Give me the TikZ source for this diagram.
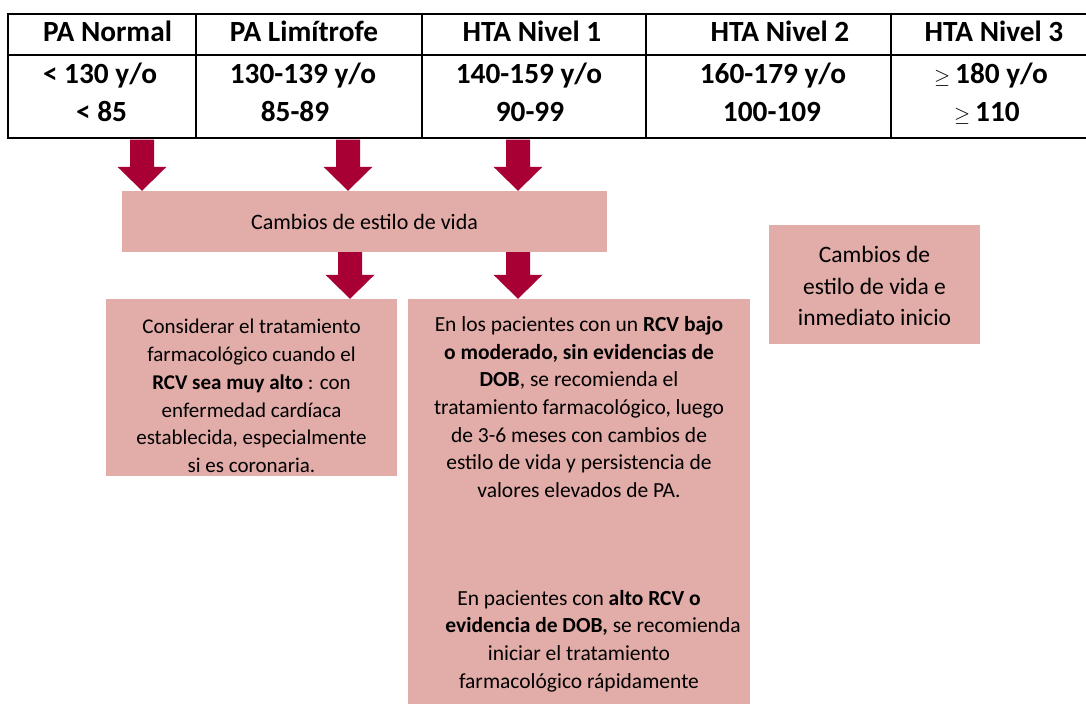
\documentclass[tikz,border=0pt]{standalone}
\usepackage{fontspec}
\setmainfont{Carlito}
\usetikzlibrary{calc}
\definecolor{arrowc}{RGB}{168,0,52}
\definecolor{pinkc}{RGB}{226,172,168}
\newcommand\blockarrow[2]{%
  \fill[arrowc] let \p1=#1, \p2=#2 in
    (\x1-12pt,\y1) -- (\x1+12pt,\y1) -- (\x1+12pt,\y2+24pt) -- (\x1+24.5pt,\y2+24pt)
    -- (\x1,\y2) -- (\x1-24.5pt,\y2+24pt) -- (\x1-12pt,\y2+24pt) -- cycle;}
\tikzset{
  tbl/.style={line width=2.6pt, draw=black},
  celltext/.style={anchor=base, inner sep=0pt, font=\fontsize{29.3}{29}\selectfont\bfseries},
  pinkbox/.style={fill=pinkc, draw=none, inner sep=0pt},
  boxtext/.style={align=center, inner sep=0pt, font=\fontsize{21}{27.8}\selectfont},
}
\newcommand\gsym{{\fontsize{22}{22}\selectfont$\geq$}}
\begin{document}
\begin{tikzpicture}[x=1pt,y=-1pt]
\useasboundingbox (0,0) rectangle (1086,704);
% table
\draw[tbl] (8,14) rectangle (1092,138);
\draw[tbl] (8,55) -- (1092,55);
\foreach \xx in {196,422,646,891} \draw[tbl] (\xx,14) -- (\xx,138);
% header
\node[celltext] (h1) at (107.5,41.7) {PA Normal};
\node[celltext] (h2) at (304,41.7) {PA Limítrofe};
\node[celltext] (h3) at (532,41.7) {HTA Nivel 1};
\node[celltext] (h4) at (780,41.7) {HTA Nivel 2};
\node[celltext] (h5) at (994,41.7) {HTA Nivel 3};
% data
\node[celltext] (d1a) at (100,83) {< 130 y/o};
\node[celltext] (d2a) at (303,83) {130-139 y/o};
\node[celltext] (d3a) at (529,83) {140-159 y/o};
\node[celltext] (d4a) at (773,83) {160-179 y/o};
\node[celltext] (d5a) at (991,83) {\gsym\,180 y/o};
\node[celltext] (d1b) at (101.5,121) {< 85};
\node[celltext] (d2b) at (295,121) {85-89};
\node[celltext] (d3b) at (530,121) {90-99};
\node[celltext] (d4b) at (772,121) {100-109};
\node[celltext] (d5b) at (987,121) {\gsym\,110};
% boxes
\node[pinkbox, minimum width=485, minimum height=61,
      font=\fontsize{22}{26}\selectfont] (cb) at (364.5,221.5) {Cambios de estilo de vida};
\node[pinkbox, minimum width=291, minimum height=177] (b1) at (251.5,387.5) {};
\node[pinkbox, minimum width=342, minimum height=405] (b2) at (579,501.5) {};
\node[pinkbox, minimum width=211, minimum height=119] (b3) at (874.5,284.5) {};
% box texts
\node[boxtext] (t1) at (251.5,396) {Considerar el tratamiento\\farmacológico cuando el\\\textbf{RCV sea muy alto} : con\\enfermedad cardíaca\\establecida, especialmente\\si es coronaria.};
\node[boxtext, font=\fontsize{21.5}{27.7}\selectfont] (t2) at (579,407) {En los pacientes con un \textbf{RCV bajo}\\\textbf{o moderado, sin evidencias de}\\\textbf{DOB}, se recomienda el\\tratamiento farmacológico, luego\\de 3-6 meses con cambios de\\estilo de vida y persistencia de\\valores elevados de PA.};
\node[boxtext, font=\fontsize{21.5}{27.8}\selectfont] (t3) at (579,641) {En pacientes con \textbf{alto RCV o}\\\hspace*{28pt}\textbf{evidencia de DOB,} se recomienda\\iniciar el tratamiento\\farmacológico rápidamente};
\node[boxtext, font=\fontsize{23.5}{31.5}\selectfont] (t4) at (874.5,286) {Cambios de\\estilo de vida e\\inmediato inicio};
% arrows
\coordinate (a1) at (142,139.5);
\coordinate (a2) at (348,139.5);
\coordinate (a3) at (518,139.5);
\coordinate (a4) at (350,252);
\coordinate (a5) at (518,252);
\blockarrow{(a1)}{(a1 |- cb.north)}
\blockarrow{(a2)}{(a2 |- cb.north)}
\blockarrow{(a3)}{(a3 |- cb.north)}
\blockarrow{(a4)}{(a4 |- b1.north)}
\blockarrow{(a5)}{(a5 |- b2.north)}
\end{tikzpicture}
\end{document}
